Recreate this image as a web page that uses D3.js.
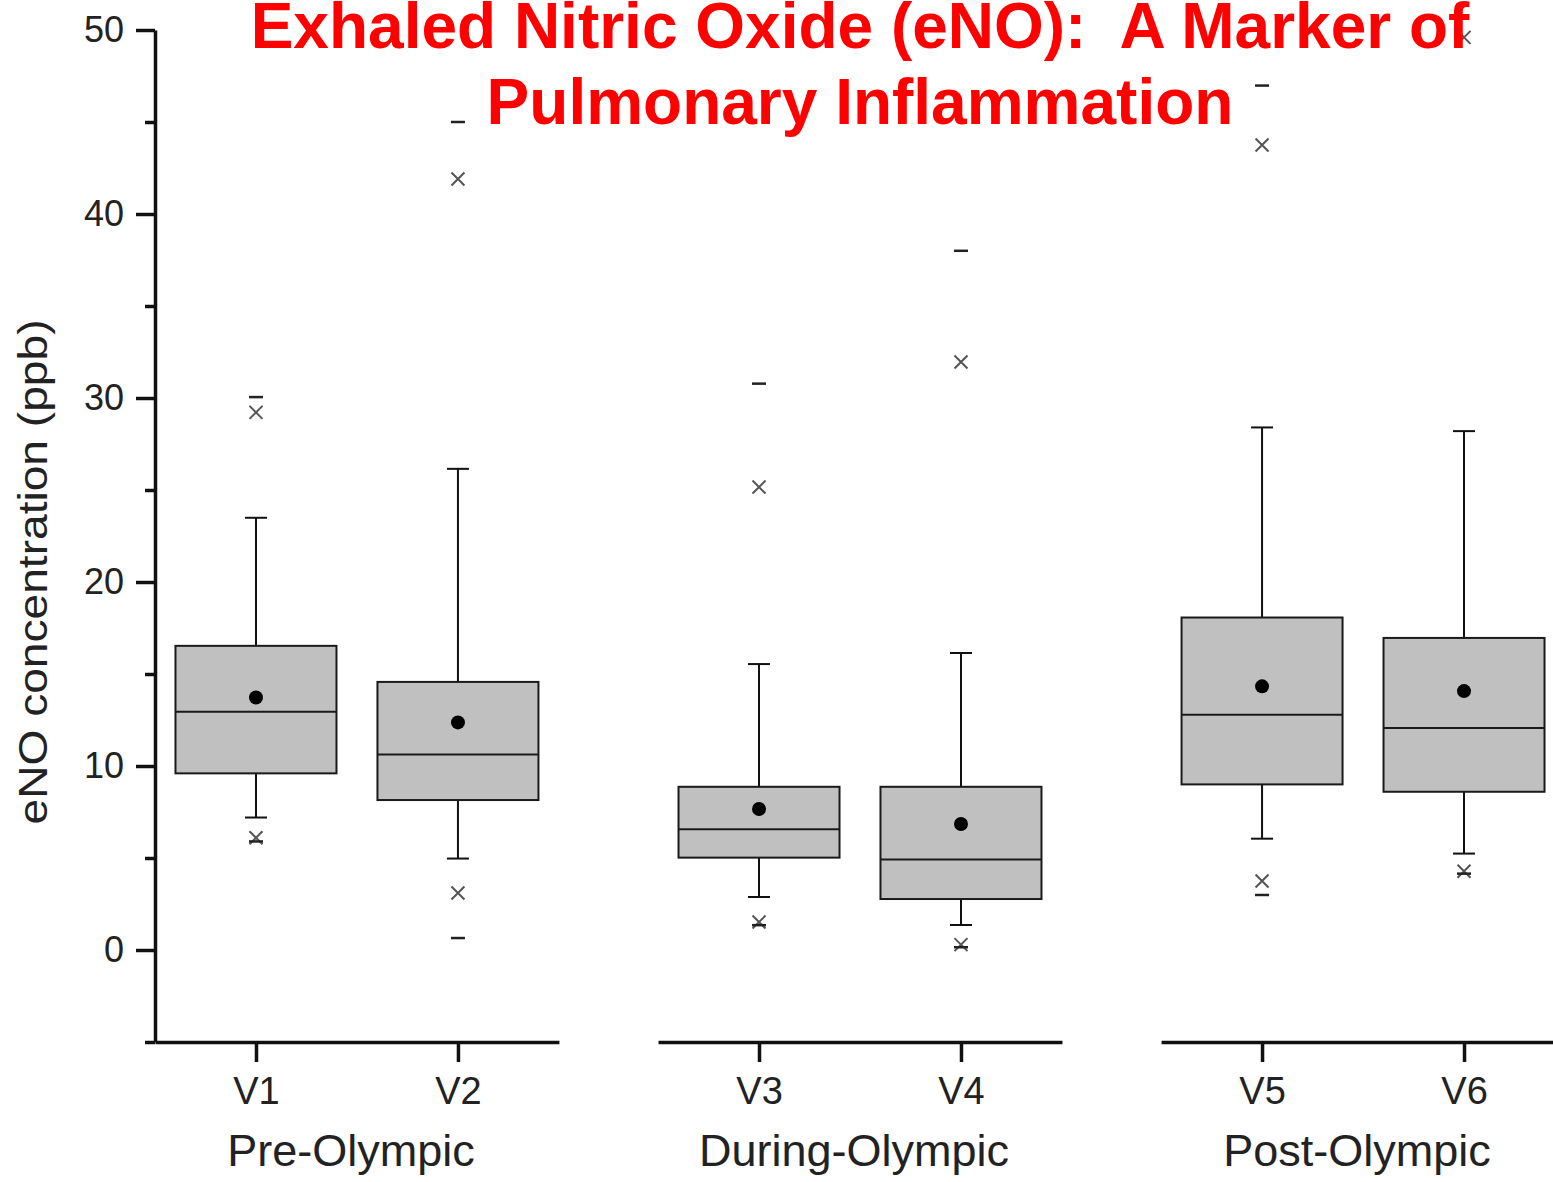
<!DOCTYPE html>
<html>
<head>
<meta charset="utf-8">
<script src="https://cdn.jsdelivr.net/npm/d3@7"></script>
<style>
  body { margin: 0; background: #fff; }
  text { font-family: 'Liberation Sans', Arial, sans-serif; }
</style>
</head>
<body>
<script>
// groups and their visits
const groups = ['Pre-Olympic', 'During-Olympic', 'Post-Olympic']
const visits = [['V1', 'V2'], ['V3', 'V4'], ['V5', 'V6']]

// box statistics per visit (V1..V6), eNO in ppb
const minVals = [5.9, 0.65, 1.35, 0.15, 2.99, 4.15]
const p1Vals = [6.1, 3.1, 1.52, 0.29, 3.75, 4.28]
const p5Vals = [7.2, 4.97, 2.88, 1.36, 6.05, 5.24]
const q1Vals = [9.6, 8.15, 5.02, 2.77, 9.0, 8.6]
const medianVals = [12.95, 10.62, 6.56, 4.92, 12.78, 12.06]
const meanVals = [13.72, 12.37, 7.66, 6.85, 14.33, 14.07]
const q3Vals = [16.53, 14.57, 8.87, 8.87, 18.07, 16.96]
const p95Vals = [23.49, 26.15, 15.54, 16.14, 28.4, 28.2]
const p99Vals = [29.22, 41.9, 25.16, 31.96, 43.75, 49.6]
const maxVals = [30.05, 45.0, 30.78, 38.0, 46.98, 51.5]

const yTicks = [0, 10, 20, 30, 40, 50]
const yMinorTicks = [-5, 5, 15, 25, 35, 45]

const width = 1553
const height = 1182

const data = visits.flat().map((v, i) => ({
  visit: v,
  group: groups[Math.floor(i / 2)],
  min: minVals[i], p1: p1Vals[i], p5: p5Vals[i], q1: q1Vals[i],
  median: medianVals[i], mean: meanVals[i], q3: q3Vals[i],
  p95: p95Vals[i], p99: p99Vals[i], max: maxVals[i]
}))

const svg = d3.select('body').append('svg')
  .attr('width', width)
  .attr('height', height)

const y = d3.scaleLinear().domain([-5, 50]).range([1042, 30])

const panel = d3.scaleBand()
  .domain(groups)
  .range([155, 1565])
  .paddingInner(0.197)

const inner = d3.scalePoint()
  .range([0, panel.bandwidth()])
  .padding(0.5)

const boxW = 161
const capW = 22

svg.append('clipPath').attr('id', 'plotclip')
  .append('rect')
  .attr('x', 0).attr('y', y(50) - 1)
  .attr('width', width).attr('height', y(-5) - y(50) + 2)

// y axis
const yAxis = svg.append('g')
  .attr('transform', 'translate(' + panel(groups[0]) + ',0)')
  .call(d3.axisLeft(y).tickValues(yTicks).tickSize(19).tickSizeOuter(0).tickPadding(12))
yAxis.selectAll('path, line').attr('stroke', '#111').attr('stroke-width', 3.5)
yAxis.selectAll('text').attr('font-size', 36).attr('fill', '#222')

const yMinor = svg.append('g')
  .attr('transform', 'translate(' + panel(groups[0]) + ',0)')
  .call(d3.axisLeft(y).tickValues(yMinorTicks).tickSize(10).tickFormat(''))
yMinor.select('.domain').remove()
yMinor.selectAll('line').attr('stroke', '#111').attr('stroke-width', 3.5)

svg.append('text')
  .attr('transform', 'rotate(-90)')
  .attr('x', -572)
  .attr('y', 47)
  .attr('text-anchor', 'middle')
  .attr('font-size', 41)
  .attr('fill', '#222')
  .attr('textLength', 505)
  .attr('lengthAdjust', 'spacingAndGlyphs')
  .text('eNO concentration (ppb)')

// panels
groups.forEach((grp, gi) => {
  const x0 = panel(grp)
  const xs = inner.copy().domain(visits[gi])
  const g = svg.append('g').attr('transform', 'translate(' + x0 + ',0)')

  const xAxis = g.append('g')
    .attr('transform', 'translate(0,' + y(-5) + ')')
    .call(d3.axisBottom(xs).tickSize(20).tickSizeOuter(0).tickPadding(15))
  xAxis.selectAll('path, line').attr('stroke', '#111').attr('stroke-width', 3.5)
  xAxis.selectAll('text').attr('font-size', 38).attr('fill', '#222')

  g.append('text')
    .attr('x', panel.bandwidth() / 2 - 6)
    .attr('y', 1166)
    .attr('text-anchor', 'middle')
    .attr('font-size', 45)
    .attr('fill', '#222')
    .text(grp)

  const boxes = g.append('g').attr('clip-path', 'url(#plotclip)')
    .selectAll('g.box')
    .data(data.filter(d => d.group === grp))
    .join('g')
    .attr('class', 'box')
    .attr('transform', d => 'translate(' + xs(d.visit) + ',0)')

  // whiskers
  boxes.append('line')
    .attr('x1', 0).attr('x2', 0)
    .attr('y1', d => y(d.p95)).attr('y2', d => y(d.q3))
    .attr('stroke', '#111').attr('stroke-width', 2)
  boxes.append('line')
    .attr('x1', 0).attr('x2', 0)
    .attr('y1', d => y(d.q1)).attr('y2', d => y(d.p5))
    .attr('stroke', '#111').attr('stroke-width', 2)
  boxes.selectAll('line.cap')
    .data(d => [d.p5, d.p95])
    .join('line')
    .attr('class', 'cap')
    .attr('x1', -capW / 2).attr('x2', capW / 2)
    .attr('y1', v => y(v)).attr('y2', v => y(v))
    .attr('stroke', '#111').attr('stroke-width', 2)

  boxes.append('rect')
    .attr('x', -boxW / 2)
    .attr('width', boxW)
    .attr('y', d => y(d.q3))
    .attr('height', d => y(d.q1) - y(d.q3))
    .attr('fill', '#c0c0c0')
    .attr('stroke', '#1a1a1a')
    .attr('stroke-width', 2)

  boxes.append('line')
    .attr('x1', -boxW / 2).attr('x2', boxW / 2)
    .attr('y1', d => y(d.median)).attr('y2', d => y(d.median))
    .attr('stroke', '#1a1a1a').attr('stroke-width', 2)

  boxes.append('circle')
    .attr('cx', 0)
    .attr('cy', d => y(d.mean))
    .attr('r', 7)
    .attr('fill', '#000')

  // 1% / 99% crosses
  boxes.selectAll('path.cross')
    .data(d => [d.p1, d.p99])
    .join('path')
    .attr('class', 'cross')
    .attr('d', v => {
      const cy = y(v), s = 6.5
      return 'M' + (-s) + ',' + (cy - s) + 'L' + s + ',' + (cy + s) +
        'M' + s + ',' + (cy - s) + 'L' + (-s) + ',' + (cy + s)
    })
    .attr('stroke', '#555').attr('stroke-width', 2).attr('fill', 'none')

  // min / max dashes
  boxes.selectAll('line.mm')
    .data(d => [d.min, d.max])
    .join('line')
    .attr('class', 'mm')
    .attr('x1', -7).attr('x2', 7)
    .attr('y1', v => y(v)).attr('y2', v => y(v))
    .attr('stroke', '#222').attr('stroke-width', 2.5)
})

// title
const title = svg.append('text')
  .attr('text-anchor', 'middle')
  .attr('font-size', 64)
  .attr('font-weight', 'bold')
  .attr('fill', '#ff0000')
  .style('white-space', 'pre')
title.append('tspan').attr('x', 860).attr('y', 48).text('Exhaled Nitric Oxide (eNO):  A Marker of')
title.append('tspan').attr('x', 860).attr('y', 124).text('Pulmonary Inflammation')
</script>
</body>
</html>
